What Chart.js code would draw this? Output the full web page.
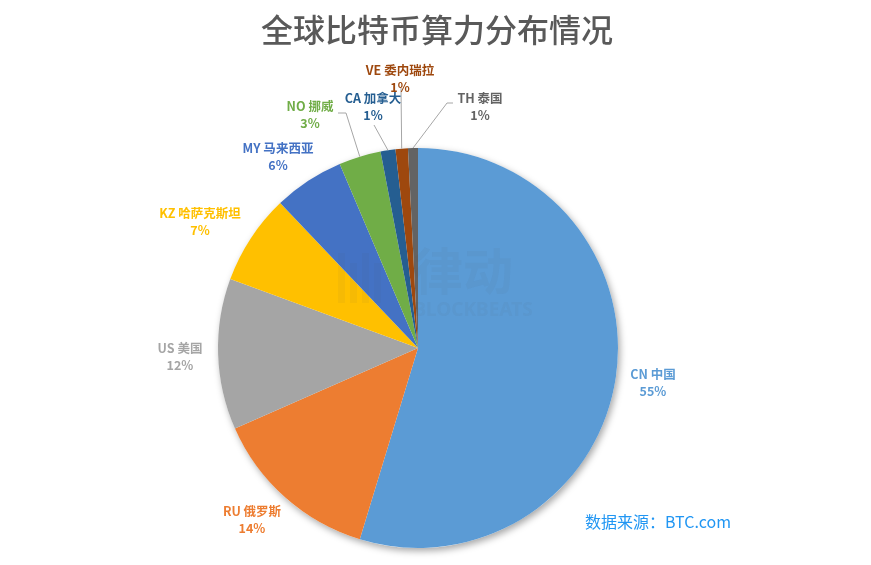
<!DOCTYPE html>
<html>
<head>
<meta charset="utf-8">
<script src="https://cdn.jsdelivr.net/npm/chart.js@4"></script>
<style>
  html, body { margin: 0; padding: 0; background: #fff; }
  #wrap { width: 871px; height: 565px; }
</style>
</head>
<body>
<div id="wrap"><canvas id="hashChart" width="871" height="565"></canvas></div>
<script>
// data (share of hashrate, %)
const countries = ['CN 中国', 'RU 俄罗斯', 'US 美国', 'KZ 哈萨克斯坦', 'MY 马来西亚', 'NO 挪威', 'CA 加拿大', 'VE 委内瑞拉', 'TH 泰国'];
const shares = [54.7, 13.7, 12.2, 7.3, 5.7, 3.4, 1.2, 1.0, 0.8];
const sliceColors = ['#5B9BD5', '#ED7D31', '#A5A5A5', '#FFC000', '#4472C4', '#70AD47', '#255E91', '#9E480E', '#636363'];

const titleText = '全球比特币算力分布情况';
const sourceText = '数据来源：BTC.com';

// label placement, offset from pie centre (first line)
const labelOffsets = [
    [235, 26], [-166, 163], [-238, 0], [-218, -135], [-140, -200],
    [-108, -242], [-45, -250], [-18, -278], [62, -250]
];
// leader lines: elbow point + end point, relative to centre (null = no line)
const leaders = [
    null, null, null, null, null,
    [[-72, -235], [-80, -235]],
    [[-44, -223], [-44, -223]],
    [[-17, -260], [-17, -260]],
    [[29, -245], [35, -245]]
];

const ctx = document.getElementById('hashChart').getContext('2d');

const shadowPlugin = {
    id: 'pieShadow',
    beforeDatasetsDraw(chart) {
        const arc = chart.getDatasetMeta(0).data[0];
        if (!arc) return;
        const c = chart.ctx;
        c.save();
        c.shadowColor = 'rgba(0,0,0,0.35)';
        c.shadowBlur = 7;
        c.shadowOffsetX = 2;
        c.shadowOffsetY = 3;
        c.fillStyle = '#fff';
        c.beginPath();
        c.arc(arc.x, arc.y, arc.outerRadius, 0, Math.PI * 2);
        c.fill();
        c.restore();
    }
};

const textPlugin = {
    id: 'pieText',
    afterDatasetsDraw(chart) {
        const c = chart.ctx;
        const arcs = chart.getDatasetMeta(0).data;
        const cx = arcs[0].x, cy = arcs[0].y;

        // watermark
        c.save();
        c.fillStyle = 'rgba(70,70,70,0.05)';
        c.font = 'bold 50px "Noto Sans CJK SC"';
        c.textAlign = 'center';
        c.textBaseline = 'middle';
        c.fillText('律动', cx + 45, cy - 77);
        c.font = 'bold 19px "Noto Sans"';
        c.fillText('BLOCKBEATS', cx + 55, cy - 37);
        for (let k = 0; k < 4; k++) {
            c.fillRect(cx - 80 + k * 12, cy - 95 + (k % 2) * 10, 7, 50 - (k % 2) * 10);
        }
        c.restore();

        // leader lines
        c.save();
        c.strokeStyle = '#A6A6A6';
        c.lineWidth = 1;
        arcs.forEach((arc, i) => {
            const l = leaders[i];
            if (!l) return;
            const mid = (arc.startAngle + arc.endAngle) / 2;
            const sx = arc.x + Math.cos(mid) * arc.outerRadius;
            const sy = arc.y + Math.sin(mid) * arc.outerRadius;
            c.beginPath();
            c.moveTo(sx, sy);
            c.lineTo(cx + l[0][0], cy + l[0][1]);
            c.lineTo(cx + l[1][0], cy + l[1][1]);
            c.stroke();
        });
        c.restore();

        // labels
        c.save();
        c.textAlign = 'center';
        c.textBaseline = 'middle';
        c.font = 'bold 12.5px "Noto Sans CJK SC"';
        arcs.forEach((arc, i) => {
            const o = labelOffsets[i];
            c.fillStyle = sliceColors[i];
            c.fillText(countries[i], cx + o[0], cy + o[1]);
            c.fillText(Math.round(shares[i]) + '%', cx + o[0], cy + o[1] + 17);
        });
        c.restore();

        // title and source
        c.save();
        c.textAlign = 'center';
        c.textBaseline = 'middle';
        c.fillStyle = '#595959';
        c.font = '500 32px "Noto Sans CJK SC"';
        c.fillText(titleText, 437, 30);
        c.textAlign = 'left';
        c.fillStyle = '#2196F3';
        c.font = '16px "Noto Sans CJK SC"';
        c.fillText(sourceText, 585, 522);
        c.restore();
    }
};

const hashChart = new Chart(ctx, {
    type: 'pie',
    data: {
        labels: countries,
        datasets: [{
            data: shares,
            backgroundColor: sliceColors,
            borderWidth: 0
        }]
    },
    options: {
        responsive: false,
        animation: false,
        layout: { padding: { top: 148, bottom: 17, left: 218, right: 253 } },
        plugins: {
            legend: { display: false },
            tooltip: { enabled: false },
            title: { display: false }
        }
    },
    plugins: [shadowPlugin, textPlugin]
});
</script>
</body>
</html>
